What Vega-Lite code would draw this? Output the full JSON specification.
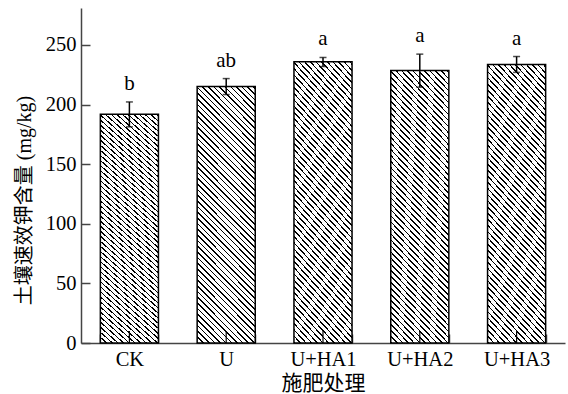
{
  "$schema": "https://vega.github.io/schema/vega-lite/v6.json",
  "width": 484,
  "height": 335,
  "autosize": "none",
  "padding": {"left": 81, "top": 8, "right": 3, "bottom": 51},
  "background": "white",
  "config": {
    "view": {"stroke": null},
    "font": "Liberation Serif, Noto Sans CJK SC",
    "axis": {
      "labelFont": "Liberation Serif",
      "labelFontSize": 20.5,
      "labelColor": "#000",
      "titleFont": "Liberation Serif, Noto Sans CJK SC",
      "titleFontSize": 20,
      "titleFontWeight": "normal",
      "titleColor": "#000",
      "domainColor": "#444",
      "domainWidth": 1.5,
      "tickColor": "#444",
      "tickWidth": 1.5,
      "grid": false
    }
  },
  "data": {
    "values": [
      {"group": "CK", "mean": 191.8, "lo": 181.3, "hi": 202.2, "sig": "b"},
      {"group": "U", "mean": 215.1, "lo": 208.4, "hi": 221.8, "sig": "ab"},
      {"group": "U+HA1", "mean": 235.9, "lo": 231.9, "hi": 239.5, "sig": "a"},
      {"group": "U+HA2", "mean": 228.6, "lo": 214.6, "hi": 242.3, "sig": "a"},
      {"group": "U+HA3", "mean": 233.6, "lo": 227.0, "hi": 240.3, "sig": "a"}
    ]
  },
  "encoding": {
    "x": {
      "field": "group",
      "type": "nominal",
      "sort": null,
      "scale": {"paddingInner": 0.4, "paddingOuter": 0.2},
      "axis": {
        "title": "施肥处理",
        "labelAngle": 0,
        "tickBand": "extent",
        "tickSize": -9,
        "labelPadding": 15,
        "titleY": 40,
        "titleBaseline": "middle",
        "titleFontSize": 21
      }
    }
  },
  "layer": [
    {
      "mark": {
        "type": "bar",
        "stroke": "#000",
        "strokeWidth": 1.5,
        "fill": {
          "gradient": "linear",
          "x1": 0, "y1": 1, "x2": 0.2655, "y2": -0.1674,
          "stops": [
            {"offset":0,"color":"#000"},{"offset":0.005,"color":"#000"},{"offset":0.005,"color":"#fff"},{"offset":0.018,"color":"#fff"},
            {"offset":0.018,"color":"#000"},{"offset":0.023,"color":"#000"},{"offset":0.023,"color":"#fff"},{"offset":0.036,"color":"#fff"},
            {"offset":0.036,"color":"#000"},{"offset":0.041,"color":"#000"},{"offset":0.041,"color":"#fff"},{"offset":0.054,"color":"#fff"},
            {"offset":0.054,"color":"#000"},{"offset":0.059,"color":"#000"},{"offset":0.059,"color":"#fff"},{"offset":0.072,"color":"#fff"},
            {"offset":0.072,"color":"#000"},{"offset":0.077,"color":"#000"},{"offset":0.077,"color":"#fff"},{"offset":0.09,"color":"#fff"},
            {"offset":0.09,"color":"#000"},{"offset":0.095,"color":"#000"},{"offset":0.095,"color":"#fff"},{"offset":0.108,"color":"#fff"},
            {"offset":0.108,"color":"#000"},{"offset":0.113,"color":"#000"},{"offset":0.113,"color":"#fff"},{"offset":0.126,"color":"#fff"},
            {"offset":0.126,"color":"#000"},{"offset":0.131,"color":"#000"},{"offset":0.131,"color":"#fff"},{"offset":0.144,"color":"#fff"},
            {"offset":0.144,"color":"#000"},{"offset":0.149,"color":"#000"},{"offset":0.149,"color":"#fff"},{"offset":0.162,"color":"#fff"},
            {"offset":0.162,"color":"#000"},{"offset":0.167,"color":"#000"},{"offset":0.167,"color":"#fff"},{"offset":0.18,"color":"#fff"},
            {"offset":0.18,"color":"#000"},{"offset":0.185,"color":"#000"},{"offset":0.185,"color":"#fff"},{"offset":0.198,"color":"#fff"},
            {"offset":0.198,"color":"#000"},{"offset":0.203,"color":"#000"},{"offset":0.203,"color":"#fff"},{"offset":0.216,"color":"#fff"},
            {"offset":0.216,"color":"#000"},{"offset":0.221,"color":"#000"},{"offset":0.221,"color":"#fff"},{"offset":0.234,"color":"#fff"},
            {"offset":0.234,"color":"#000"},{"offset":0.239,"color":"#000"},{"offset":0.239,"color":"#fff"},{"offset":0.252,"color":"#fff"},
            {"offset":0.252,"color":"#000"},{"offset":0.257,"color":"#000"},{"offset":0.257,"color":"#fff"},{"offset":0.27,"color":"#fff"},
            {"offset":0.27,"color":"#000"},{"offset":0.275,"color":"#000"},{"offset":0.275,"color":"#fff"},{"offset":0.288,"color":"#fff"},
            {"offset":0.288,"color":"#000"},{"offset":0.293,"color":"#000"},{"offset":0.293,"color":"#fff"},{"offset":0.306,"color":"#fff"},
            {"offset":0.306,"color":"#000"},{"offset":0.311,"color":"#000"},{"offset":0.311,"color":"#fff"},{"offset":0.324,"color":"#fff"},
            {"offset":0.324,"color":"#000"},{"offset":0.329,"color":"#000"},{"offset":0.329,"color":"#fff"},{"offset":0.342,"color":"#fff"},
            {"offset":0.342,"color":"#000"},{"offset":0.347,"color":"#000"},{"offset":0.347,"color":"#fff"},{"offset":0.36,"color":"#fff"},
            {"offset":0.36,"color":"#000"},{"offset":0.365,"color":"#000"},{"offset":0.365,"color":"#fff"},{"offset":0.378,"color":"#fff"},
            {"offset":0.378,"color":"#000"},{"offset":0.383,"color":"#000"},{"offset":0.383,"color":"#fff"},{"offset":0.396,"color":"#fff"},
            {"offset":0.396,"color":"#000"},{"offset":0.401,"color":"#000"},{"offset":0.401,"color":"#fff"},{"offset":0.414,"color":"#fff"},
            {"offset":0.414,"color":"#000"},{"offset":0.419,"color":"#000"},{"offset":0.419,"color":"#fff"},{"offset":0.432,"color":"#fff"},
            {"offset":0.432,"color":"#000"},{"offset":0.437,"color":"#000"},{"offset":0.437,"color":"#fff"},{"offset":0.45,"color":"#fff"},
            {"offset":0.45,"color":"#000"},{"offset":0.455,"color":"#000"},{"offset":0.455,"color":"#fff"},{"offset":0.468,"color":"#fff"},
            {"offset":0.468,"color":"#000"},{"offset":0.473,"color":"#000"},{"offset":0.473,"color":"#fff"},{"offset":0.486,"color":"#fff"},
            {"offset":0.486,"color":"#000"},{"offset":0.491,"color":"#000"},{"offset":0.491,"color":"#fff"},{"offset":0.504,"color":"#fff"},
            {"offset":0.504,"color":"#000"},{"offset":0.509,"color":"#000"},{"offset":0.509,"color":"#fff"},{"offset":0.522,"color":"#fff"},
            {"offset":0.522,"color":"#000"},{"offset":0.527,"color":"#000"},{"offset":0.527,"color":"#fff"},{"offset":0.54,"color":"#fff"},
            {"offset":0.54,"color":"#000"},{"offset":0.545,"color":"#000"},{"offset":0.545,"color":"#fff"},{"offset":0.558,"color":"#fff"},
            {"offset":0.558,"color":"#000"},{"offset":0.563,"color":"#000"},{"offset":0.563,"color":"#fff"},{"offset":0.576,"color":"#fff"},
            {"offset":0.576,"color":"#000"},{"offset":0.581,"color":"#000"},{"offset":0.581,"color":"#fff"},{"offset":0.594,"color":"#fff"},
            {"offset":0.594,"color":"#000"},{"offset":0.599,"color":"#000"},{"offset":0.599,"color":"#fff"},{"offset":0.612,"color":"#fff"},
            {"offset":0.612,"color":"#000"},{"offset":0.617,"color":"#000"},{"offset":0.617,"color":"#fff"},{"offset":0.63,"color":"#fff"},
            {"offset":0.63,"color":"#000"},{"offset":0.635,"color":"#000"},{"offset":0.635,"color":"#fff"},{"offset":0.648,"color":"#fff"},
            {"offset":0.648,"color":"#000"},{"offset":0.653,"color":"#000"},{"offset":0.653,"color":"#fff"},{"offset":0.666,"color":"#fff"},
            {"offset":0.666,"color":"#000"},{"offset":0.671,"color":"#000"},{"offset":0.671,"color":"#fff"},{"offset":0.684,"color":"#fff"},
            {"offset":0.684,"color":"#000"},{"offset":0.689,"color":"#000"},{"offset":0.689,"color":"#fff"},{"offset":0.702,"color":"#fff"},
            {"offset":0.702,"color":"#000"},{"offset":0.707,"color":"#000"},{"offset":0.707,"color":"#fff"},{"offset":0.72,"color":"#fff"},
            {"offset":0.72,"color":"#000"},{"offset":0.725,"color":"#000"},{"offset":0.725,"color":"#fff"},{"offset":0.738,"color":"#fff"},
            {"offset":0.738,"color":"#000"},{"offset":0.743,"color":"#000"},{"offset":0.743,"color":"#fff"},{"offset":0.756,"color":"#fff"},
            {"offset":0.756,"color":"#000"},{"offset":0.761,"color":"#000"},{"offset":0.761,"color":"#fff"},{"offset":0.774,"color":"#fff"},
            {"offset":0.774,"color":"#000"},{"offset":0.779,"color":"#000"},{"offset":0.779,"color":"#fff"},{"offset":0.792,"color":"#fff"},
            {"offset":0.792,"color":"#000"},{"offset":0.797,"color":"#000"},{"offset":0.797,"color":"#fff"},{"offset":0.81,"color":"#fff"},
            {"offset":0.81,"color":"#000"},{"offset":0.815,"color":"#000"},{"offset":0.815,"color":"#fff"},{"offset":0.828,"color":"#fff"},
            {"offset":0.828,"color":"#000"},{"offset":0.833,"color":"#000"},{"offset":0.833,"color":"#fff"},{"offset":0.846,"color":"#fff"},
            {"offset":0.846,"color":"#000"},{"offset":0.851,"color":"#000"},{"offset":0.851,"color":"#fff"},{"offset":0.864,"color":"#fff"},
            {"offset":0.864,"color":"#000"},{"offset":0.869,"color":"#000"},{"offset":0.869,"color":"#fff"},{"offset":0.882,"color":"#fff"},
            {"offset":0.882,"color":"#000"},{"offset":0.887,"color":"#000"},{"offset":0.887,"color":"#fff"},{"offset":0.9,"color":"#fff"},
            {"offset":0.9,"color":"#000"},{"offset":0.905,"color":"#000"},{"offset":0.905,"color":"#fff"},{"offset":0.918,"color":"#fff"},
            {"offset":0.918,"color":"#000"},{"offset":0.923,"color":"#000"},{"offset":0.923,"color":"#fff"},{"offset":0.936,"color":"#fff"},
            {"offset":0.936,"color":"#000"},{"offset":0.941,"color":"#000"},{"offset":0.941,"color":"#fff"},{"offset":0.954,"color":"#fff"},
            {"offset":0.954,"color":"#000"},{"offset":0.959,"color":"#000"},{"offset":0.959,"color":"#fff"},{"offset":0.972,"color":"#fff"},
            {"offset":0.972,"color":"#000"},{"offset":0.977,"color":"#000"},{"offset":0.977,"color":"#fff"},{"offset":0.99,"color":"#fff"},
            {"offset":0.99,"color":"#000"},{"offset":0.995,"color":"#000"},{"offset":0.995,"color":"#fff"},{"offset":1,"color":"#fff"}
          ]
        }
      },
      "encoding": {
        "y": {
          "field": "mean",
          "type": "quantitative",
          "scale": {"domain": [0, 281], "nice": false},
          "axis": {
            "title": "土壤速效钾含量 (mg/kg)",
            "values": [0, 25, 50, 75, 100, 125, 150, 175, 200, 225, 250, 275],
            "labelExpr": "datum.value % 50 === 0 ? datum.label : ''",
            "tickSize": {"condition": {"test": "datum.value % 50 === 0", "value": -9}, "value": -5},
            "labelPadding": 14,
            "titleAngle": 270,
            "titleX": -57,
            "titleY": 192,
            "titleAlign": "center",
            "titleBaseline": "middle"
          }
        }
      }
    },
    {
      "mark": {"type": "rule", "color": "#000", "strokeWidth": 1.2},
      "encoding": {"y": {"datum": 0, "type": "quantitative"}, "y2": {"datum": 10}}
    },
    {
      "mark": {"type": "rule", "color": "#000", "strokeWidth": 1.5},
      "encoding": {"y": {"field": "lo", "type": "quantitative"}, "y2": {"field": "hi"}}
    },
    {
      "mark": {"type": "tick", "color": "#000", "size": 7, "thickness": 1.5, "orient": "horizontal"},
      "encoding": {"y": {"field": "hi", "type": "quantitative"}}
    },
    {
      "mark": {"type": "tick", "color": "#000", "size": 7, "thickness": 1.5, "orient": "horizontal"},
      "encoding": {"y": {"field": "lo", "type": "quantitative"}}
    },
    {
      "mark": {"type": "text", "font": "Liberation Serif", "fontSize": 21, "baseline": "alphabetic", "dy": -12, "color": "#000"},
      "encoding": {"y": {"field": "hi", "type": "quantitative"}, "text": {"field": "sig"}}
    }
  ]
}
